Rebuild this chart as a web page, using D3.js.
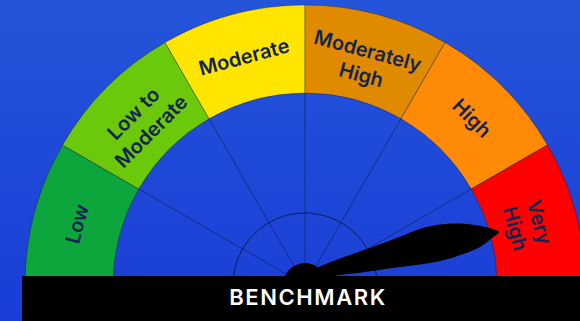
<!DOCTYPE html>
<html>
<head>
<meta charset="utf-8">
<script src="https://cdn.jsdelivr.net/npm/d3@7"></script>
<style>
  html, body { margin: 0; padding: 0; background: #1f4bd8; }
  svg { display: block; }
</style>
</head>
<body>
<svg id="chart" width="580" height="321"></svg>
<script>
// ---- data ----
const categories = ["Low", "Low to Moderate", "Moderate", "Moderately High", "High", "Very High"];
const labelLines = [["Low"], ["Low to", "Moderate"], ["Moderate"], ["Moderately", "High"], ["High"], ["Very", "High"]];
const segmentColors = ["#0ca63c", "#6cc80a", "#ffe500", "#e08a00", "#ff8a05", "#ff0000"];
const needleValue = 5.5;          // position on the 0..6 category scale
const benchmarkLabel = "BENCHMARK";

// ---- layout ----
const W = 580, H = 321;
const cx = 305, cy = 285;
const rOuter = 280, rInner = 192, rSmall = 72;
const rLabel1 = 236, rLabel2 = 230;

const svg = d3.select("#chart");
const defs = svg.append("defs");
const grad = defs.append("linearGradient").attr("id", "bg").attr("x1", 0).attr("y1", 0).attr("x2", 0).attr("y2", 1);
grad.append("stop").attr("offset", "0%").attr("stop-color", "#2455d9");
grad.append("stop").attr("offset", "100%").attr("stop-color", "#1a3dd6");
svg.append("rect").attr("width", W).attr("height", H).attr("fill", "url(#bg)");

const angle = d3.scaleLinear().domain([0, categories.length]).range([-Math.PI / 2, Math.PI / 2]);

const g = svg.append("g").attr("transform", `translate(${cx},${cy})`);

// segments
const arc = d3.arc().innerRadius(rInner).outerRadius(rOuter);
g.selectAll("path.seg")
  .data(categories)
  .join("path")
  .attr("class", "seg")
  .attr("d", (d, i) => arc({ startAngle: angle(i), endAngle: angle(i + 1) }))
  .attr("fill", (d, i) => segmentColors[i])
  .attr("stroke", "rgba(20,20,40,0.45)")
  .attr("stroke-width", 0.8);

// inner guide lines
const lineColor = "rgba(15,25,70,0.55)";
g.selectAll("line.rad")
  .data(d3.range(1, categories.length))
  .join("line")
  .attr("class", "rad")
  .attr("x1", 0).attr("y1", 0)
  .attr("x2", d => rInner * Math.sin(angle(d)))
  .attr("y2", d => -rInner * Math.cos(angle(d)))
  .attr("stroke", lineColor)
  .attr("stroke-width", 1);

g.append("path")
  .attr("d", d3.arc().innerRadius(rSmall).outerRadius(rSmall)({ startAngle: angle(0), endAngle: angle(categories.length) }))
  .attr("fill", "none")
  .attr("stroke", lineColor)
  .attr("stroke-width", 1);

// labels
const lineH = 25;
const labels = g.selectAll("g.lab")
  .data(categories)
  .join("g")
  .attr("class", "lab")
  .attr("transform", (d, i) => {
    const a = (angle(i) + angle(i + 1)) / 2;
    const r = labelLines[i].length > 1 ? rLabel2 : rLabel1;
    const x = r * Math.sin(a), y = -r * Math.cos(a);
    return `translate(${x},${y}) rotate(${a * 180 / Math.PI})`;
  });
labels.each(function (d, i) {
  const lines = labelLines[i];
  const t = d3.select(this).append("text")
    .attr("text-anchor", "middle")
    .attr("font-family", "Inter, 'Open Sans', sans-serif")
    .attr("font-weight", 600)
    .attr("font-size", 20)
    .attr("fill", "#13254f");
  lines.forEach((ln, k) => {
    t.append("tspan")
      .attr("x", 0)
      .attr("y", (k - (lines.length - 1) / 2) * lineH)
      .attr("dy", "0.35em")
      .text(ln);
  });
});

// benchmark bar
svg.append("rect")
  .attr("x", 22).attr("y", 276)
  .attr("width", W - 22).attr("height", H - 276)
  .attr("fill", "#000");

svg.append("text")
  .attr("x", 308).attr("y", 305)
  .attr("text-anchor", "middle")
  .attr("font-family", "Inter, 'Open Sans', sans-serif")
  .attr("font-weight", 600)
  .attr("font-size", 22)
  .attr("letter-spacing", 1.6)
  .attr("fill", "#fff")
  .text(benchmarkLabel);

// needle (shape in local frame, axis along +x)
const needleShape = [
  [0, -9], [23, -14.5], [51, -17.3], [75, -19.2], [104, -22], [126, -24.5], [146, -23.5],
  [165, -19.5], [184, -12], [201, -1], [194, 2.5], [179, 8.5], [157, 11.2], [137, 11.8],
  [116, 9.8], [96, 7.2], [60, 3], [26, -1], [0, 4]
];
const needleAngle = angle(needleValue);
const needleLine = d3.line().curve(d3.curveCatmullRomClosed.alpha(0.5));
g.append("path")
  .attr("d", needleLine(needleShape))
  .attr("transform", `rotate(${needleAngle * 180 / Math.PI - 90})`)
  .attr("fill", "#000");

g.append("circle").attr("r", 22).attr("fill", "#000");
</script>
</body>
</html>
